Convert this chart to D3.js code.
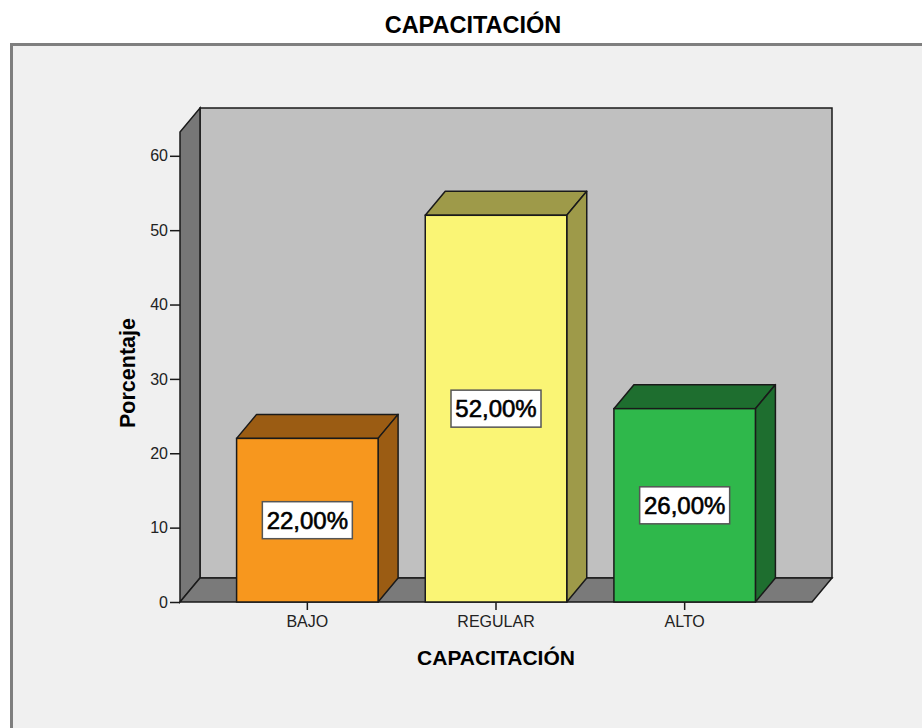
<!DOCTYPE html>
<html>
<head>
<meta charset="utf-8">
<script src="https://cdn.jsdelivr.net/npm/d3@7"></script>
<style>
  body { margin: 0; background: #fff; }
  svg { display: block; font-family: "Liberation Sans", Arial, sans-serif; }
</style>
</head>
<body>
<div id="container"></div>
<script>
const width = 922;
const height = 728;

// data
const categories = ["BAJO", "REGULAR", "ALTO"];
const values = [22, 52, 26];
const labels = ["22,00%", "52,00%", "26,00%"];
const yTicks = [0, 10, 20, 30, 40, 50, 60];

const frontColors = ["#f7971e", "#faf575", "#2fb84b"];
const darkColors = ["#9b5c13", "#9e9a49", "#1e6e2f"];

// 3d depth offset
const dx = 20, dy = -24;

const x = d3.scaleBand()
    .domain(categories)
    .range([180, 812])
    .paddingInner(0.25)
    .paddingOuter(0.3);

const y = d3.scaleLinear()
    .domain([0, 63.2])
    .range([602, 132]);

const svg = d3.select("div#container")
    .append("svg")
    .attr("width", width)
    .attr("height", height);

// outer panel
svg.append("rect")
    .attr("x", 11.5).attr("y", 44.5)
    .attr("width", 950).attr("height", 720)
    .attr("fill", "#f0f0f0")
    .attr("stroke", "#7f7f7f")
    .attr("stroke-width", 3);

svg.append("text")
    .attr("x", 473).attr("y", 33)
    .attr("text-anchor", "middle")
    .style("font-size", "23.5px").style("font-weight", "bold")
    .text("CAPACITACIÓN");

const x0 = x.range()[0], x1 = x.range()[1];
const yTop = y(y.domain()[1]), yBase = y(0);

// back wall
svg.append("rect")
    .attr("x", x0 + dx).attr("y", yTop + dy)
    .attr("width", x1 - x0).attr("height", yBase - yTop)
    .attr("fill", "#c0c0c0").attr("stroke", "#1a1a1a").attr("stroke-width", 1.5);

// left wall
svg.append("polygon")
    .attr("points", [[x0, yBase], [x0, yTop], [x0 + dx, yTop + dy], [x0 + dx, yBase + dy]].join(" "))
    .attr("fill", "#777").attr("stroke", "#1a1a1a").attr("stroke-width", 1.5);

// floor
svg.append("polygon")
    .attr("points", [[x0, yBase], [x1, yBase], [x1 + dx, yBase + dy], [x0 + dx, yBase + dy]].join(" "))
    .attr("fill", "#7a7a7a").attr("stroke", "#1a1a1a").attr("stroke-width", 1.5);

// bars
const bar = svg.append("g")
    .selectAll("g")
    .data(categories.map((c, i) => ({c, v: values[i], label: labels[i], i})))
    .join("g");

bar.append("polygon")
    .attr("points", d => {
        const bx = x(d.c), w = x.bandwidth(), yv = y(d.v);
        return [[bx, yv], [bx + dx, yv + dy], [bx + w + dx, yv + dy], [bx + w, yv]].join(" ");
    })
    .attr("fill", d => darkColors[d.i]).attr("stroke", "#1a1a1a").attr("stroke-width", 1.5)
    .attr("stroke-linejoin", "round");

bar.append("polygon")
    .attr("points", d => {
        const bx = x(d.c), w = x.bandwidth(), yv = y(d.v);
        return [[bx + w, yv], [bx + w + dx, yv + dy], [bx + w + dx, yBase + dy], [bx + w, yBase]].join(" ");
    })
    .attr("fill", d => darkColors[d.i]).attr("stroke", "#1a1a1a").attr("stroke-width", 1.5)
    .attr("stroke-linejoin", "round");

bar.append("rect")
    .attr("x", d => x(d.c)).attr("y", d => y(d.v))
    .attr("width", x.bandwidth()).attr("height", d => yBase - y(d.v))
    .attr("fill", d => frontColors[d.i]).attr("stroke", "#1a1a1a").attr("stroke-width", 1.5);

// value labels
const lab = bar.append("g")
    .attr("transform", d => `translate(${x(d.c) + x.bandwidth() / 2},${(y(d.v) + yBase) / 2})`);

lab.append("rect")
    .attr("x", -45).attr("y", -18.5)
    .attr("width", 90).attr("height", 37)
    .attr("fill", "#fff").attr("stroke", "#555").attr("stroke-width", 1.5);

lab.append("text")
    .attr("text-anchor", "middle")
    .attr("dy", "0.36em")
    .style("font-size", "24px")
    .attr("stroke", "#000").attr("stroke-width", 0.6)
    .text(d => d.label);

// y axis
const yAxis = svg.append("g")
    .attr("transform", `translate(${x0},0)`)
    .call(d3.axisLeft(y).tickValues(yTicks).tickSize(10).tickPadding(2));
yAxis.select(".domain").remove();
yAxis.selectAll(".tick line").attr("stroke", "#1a1a1a").attr("stroke-width", 1.5);
yAxis.selectAll(".tick text")
    .style("font-size", "16px").style("font-family", "'Liberation Sans', Arial, sans-serif")
    .attr("fill", "#222");

// x axis
const xAxis = svg.append("g")
    .attr("transform", `translate(0,${yBase})`)
    .call(d3.axisBottom(x).tickSize(8).tickPadding(6));
xAxis.select(".domain").remove();
xAxis.selectAll(".tick line").attr("stroke", "#1a1a1a").attr("stroke-width", 1.5);
xAxis.selectAll(".tick text")
    .style("font-size", "16px").style("font-family", "'Liberation Sans', Arial, sans-serif")
    .attr("fill", "#222");

// axis titles
svg.append("text")
    .attr("x", 496).attr("y", 665)
    .attr("text-anchor", "middle")
    .style("font-size", "21px").style("font-weight", "bold")
    .text("CAPACITACIÓN");

svg.append("text")
    .attr("transform", "translate(135,373) rotate(-90)")
    .attr("text-anchor", "middle")
    .style("font-size", "21.5px").style("font-weight", "bold")
    .text("Porcentaje");
</script>
</body>
</html>
